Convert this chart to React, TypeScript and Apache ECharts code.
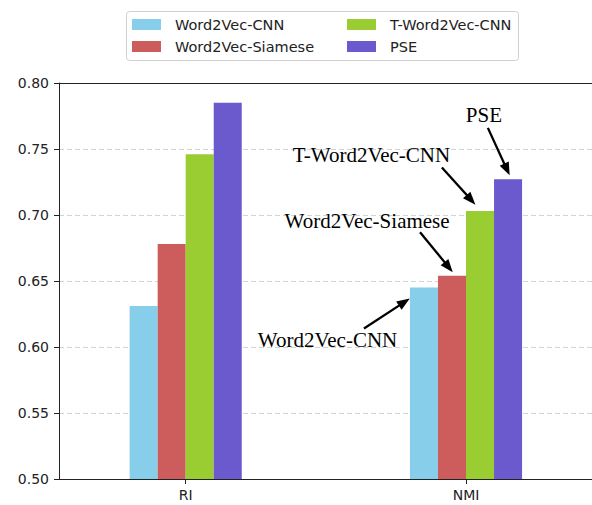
import React, { useEffect, useRef } from "react";
import * as echarts from "echarts";

const categories = ["RI", "NMI"];
const seriesNames = ["Word2Vec-CNN", "Word2Vec-Siamese", "T-Word2Vec-CNN", "PSE"];
const seriesColors = ["#87CEEB", "#CD5C5C", "#9ACD32", "#6A5ACD"];
const w2vCnn = [0.631, 0.645];
const w2vSiamese = [0.678, 0.654];
const tW2vCnn = [0.746, 0.703];
const pse = [0.785, 0.727];
const yTicks = [0.5, 0.55, 0.6, 0.65, 0.7, 0.75, 0.8];

// annotation texts and arrows, in data coordinates
const annotationTexts = ["PSE", "T-Word2Vec-CNN", "Word2Vec-Siamese", "Word2Vec-CNN"];
const annotationTextPos = [
  [1.064, 0.7755],
  [0.663, 0.7455],
  [0.647, 0.6955],
  [0.506, 0.605],
];
const arrowStart = [
  [1.078, 0.766],
  [0.914, 0.736],
  [0.836, 0.687],
  [0.636, 0.614],
];
const arrowEnd = [
  [1.146, 0.7345],
  [1.018, 0.7115],
  [0.938, 0.6605],
  [0.78, 0.634],
];

const BAR_W = 0.1;
const Y_MIN = 0.5;
const Y_MAX = 0.8;
const X_MIN = -0.452;
const X_MAX = 1.4495;

export default function App() {
  const ref = useRef<HTMLDivElement>(null);
  useEffect(() => {
    if (!ref.current) return;
    const chart = echarts.init(ref.current, null, { renderer: "svg" });
    const allValues = [w2vCnn, w2vSiamese, tW2vCnn, pse];
    const barSeries = allValues.map((vals, i) => ({
      name: seriesNames[i],
      type: "custom",
      itemStyle: { color: seriesColors[i] },
      data: vals.map((v, ci) => [ci, v]),
      renderItem: (params: any, api: any) => {
        const x = api.value(0);
        const y = api.value(1);
        const off = (i - 1.5) * BAR_W;
        const p1 = api.coord([x + off - BAR_W / 2, y]);
        const p2 = api.coord([x + off + BAR_W / 2, Y_MIN]);
        return {
          type: "rect",
          shape: { x: p1[0], y: p1[1], width: p2[0] - p1[0], height: p2[1] - p1[1] },
          style: api.style(),
        };
      },
    }));
    const annotSeries = {
      type: "line",
      data: [],
      silent: true,
      markLine: {
        silent: true,
        symbol: ["none", "triangle"],
        symbolSize: [10, 13],
        lineStyle: { color: "#000", width: 2.3, type: "solid" },
        label: { show: false },
        data: arrowStart.map((s, k) => [
          { coord: s },
          { coord: arrowEnd[k] },
        ]),
      },
      markPoint: {
        silent: true,
        symbol: "circle",
        symbolSize: 1,
        itemStyle: { color: "rgba(0,0,0,0)" },
        data: annotationTexts.map((t, k) => ({
          coord: annotationTextPos[k],
          label: {
            show: true,
            formatter: t,
            position: "inside",
            fontFamily: "Liberation Serif",
            fontSize: 21,
            color: "#000",
          },
        })),
      },
    };
    const legendCommon = {
      orient: "vertical",
      top: 17,
      padding: 0,
      itemWidth: 29,
      itemHeight: 11,
      itemGap: 7,
      icon: "rect",
      textStyle: {
        fontFamily: "DejaVu Sans",
        fontSize: 14.5,
        color: "#222",
        padding: [0, 0, 0, 9],
      },
      selectedMode: false,
    };
    chart.setOption({
      animation: false,
      graphic: [
        {
          type: "rect",
          z: -10,
          shape: { x: 126.5, y: 11.5, width: 392, height: 49, r: 3 },
          style: { fill: "#fff", stroke: "#d0d0d0", lineWidth: 1 },
        },
      ],
      legend: [
        { ...legendCommon, left: 132, data: [seriesNames[0], seriesNames[1]] },
        { ...legendCommon, left: 347, data: [seriesNames[2], seriesNames[3]] },
      ],
      grid: {
        left: 59,
        top: 83,
        bottom: 26,
        right: 0,
        show: false,
      },
      xAxis: [
        {
          type: "value",
          min: X_MIN,
          max: X_MAX,
          splitLine: { show: false },
          axisLine: { show: true, onZero: false, lineStyle: { color: "#222", width: 1 } },
          axisTick: {
            show: true,
            length: 5,
            customValues: [0, 1],
            lineStyle: { color: "#222" },
          },
          axisLabel: {
            customValues: [0, 1],
            formatter: (v: number) => categories[Math.round(v)] ?? "",
            fontFamily: "DejaVu Sans",
            fontSize: 14,
            color: "#222",
            margin: 9,
          },
        },
        {
          type: "value",
          position: "top",
          min: X_MIN,
          max: X_MAX,
          splitLine: { show: false },
          axisLine: { show: true, onZero: false, lineStyle: { color: "#222", width: 1 } },
          axisTick: { show: false },
          axisLabel: { show: false },
        },
      ],
      yAxis: {
        type: "value",
        min: Y_MIN,
        max: Y_MAX,
        interval: 0.05,
        axisLine: { show: true, onZero: false, lineStyle: { color: "#222", width: 1 } },
        axisTick: { show: true, length: 5, lineStyle: { color: "#222" } },
        axisLabel: {
          formatter: (v: number) => {
            const m = yTicks.find((t) => Math.abs(t - v) < 1e-6);
            return (m ?? v).toFixed(2);
          },
          fontFamily: "DejaVu Sans",
          fontSize: 14,
          color: "#222",
          margin: 10,
        },
        splitLine: {
          show: true,
          lineStyle: { color: "#cdd6d6", type: [5, 3], width: 1 },
        },
      },
      series: [...barSeries, annotSeries],
    });
    return () => chart.dispose();
  }, []);
  return (
    <div
      ref={ref}
      style={{ position: "fixed", left: 0, top: 0, width: 592, height: 505, background: "#fff" }}
    />
  );
}
